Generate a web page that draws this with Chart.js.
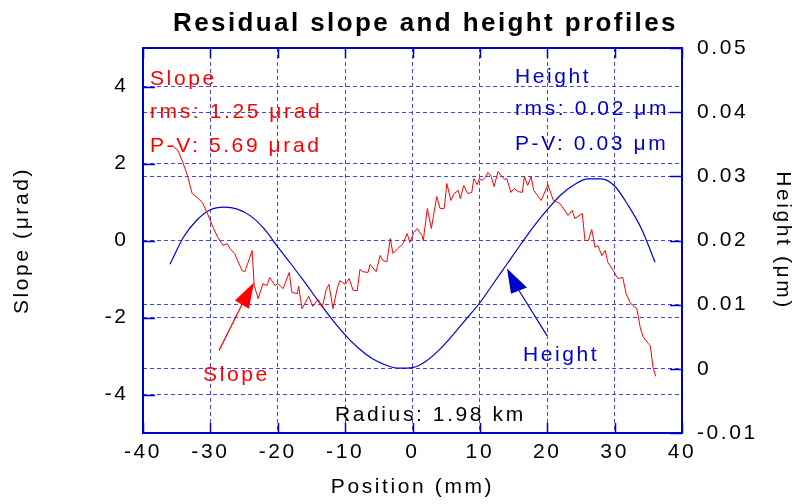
<!DOCTYPE html>
<html>
<head>
<meta charset="utf-8">
<script src="https://cdn.jsdelivr.net/npm/chart.js@4.4.0/dist/chart.umd.min.js"></script>
<style>
html, body { margin: 0; padding: 0; background: #fff; }
#wrap { width: 796px; height: 504px; }
</style>
</head>
<body>
<div id="wrap"><canvas id="myChart"></canvas></div>
<script>
// slope profile (urad) vs position (mm)
const slopeX = [-35.7, -34.8, -34.1, -33.5, -32.7, -31.8, -31.2, -30.5, -29.6, -28.9,
  -28.1, -27.5, -27.1, -26.4, -25.3, -24.9, -24.4, -23.8, -23.5, -22.9,
  -22.2, -21.6, -21.2, -20.4, -20.0, -19.2, -18.3, -17.9, -17.1, -16.9,
  -16.4, -15.4, -14.8, -14.0, -13.4, -12.8, -12.4, -11.8, -11.2, -10.8,
  -10.0, -9.4, -8.8, -8.2, -7.8, -7.4, -6.6, -6.3, -5.4, -4.8,
  -4.4, -3.8, -3.3, -2.9, -2.2, -1.4, -0.8, -0.4, 0.2, 0.7,
  1.4, 1.6, 2.2, 2.8, 3.6, 4.1, 4.7, 5.1, 5.7, 6.2,
  6.8, 7.1, 7.6, 8.2, 8.8, 9.1, 9.6, 9.9, 10.3, 10.8,
  11.2, 11.7, 12.1, 12.7, 13.3, 13.7, 14.0, 14.6, 15.1, 15.7,
  16.3, 16.6, 17.1, 17.6, 18.0, 19.1, 20.1, 20.9, 21.9, 23.1,
  23.7, 24.1, 25.2, 25.6, 26.1, 26.6, 27.1, 27.5, 28.1, 28.6,
  29.0, 29.8, 30.2, 30.5, 31.2, 31.7, 32.3, 32.7, 33.3, 33.8,
  34.2, 35.0, 35.3, 35.7, 36.1];
const slopeY = [2.47, 2.34, 2.03, 1.74, 1.22, 1.09, 0.99, 0.73, 0.34, 0.08,
  -0.13, -0.08, -0.21, -0.34, -0.78, -0.81, -0.57, -0.26, -1.17, -1.51,
  -1.12, -1.17, -0.96, -1.17, -1.12, -1.25, -0.83, -1.35, -1.38, -1.19,
  -1.77, -1.45, -1.71, -1.53, -1.74, -1.27, -1.14, -1.77, -1.27, -1.04,
  -1.14, -0.99, -1.30, -1.30, -0.75, -0.81, -0.83, -0.62, -0.81, -0.39,
  -0.52, -0.55, 0.05, -0.34, -0.21, -0.08, 0.18, -0.05, 0.21, 0.31,
  0.13, 0.00, 0.83, 0.31, 1.14, 0.83, 0.83, 1.48, 1.04, 1.22,
  1.30, 1.09, 1.43, 1.22, 1.25, 1.61, 1.45, 1.61, 1.56, 1.64,
  1.77, 1.66, 1.40, 1.79, 1.66, 1.58, 1.61, 1.25, 1.35, 1.27,
  1.25, 1.66, 1.43, 1.66, 1.30, 1.04, 1.45, 1.04, 0.96, 0.65,
  0.78, 0.57, 0.70, 0.00, 0.00, 0.29, -0.18, -0.13, -0.39, -0.26,
  -0.57, -0.78, -0.91, -0.99, -0.96, -1.38, -1.61, -1.69, -1.77, -2.26,
  -2.49, -2.68, -2.73, -3.30, -3.53];

// height profile (um) vs position (mm)
const heightX = [-36, -34, -32, -30, -28, -26, -24, -22, -20, -18,
  -16, -14, -12, -10, -8, -6, -4, -2, 0, 2,
  4, 6, 8, 10, 12, 14, 16, 18, 20, 22,
  24, 26, 28, 30, 32, 34, 36];
const heightY = [0.0163, 0.0205, 0.0232, 0.0248, 0.0252, 0.0249, 0.0238, 0.0218, 0.0190, 0.0163,
  0.0135, 0.0106, 0.0078, 0.0053, 0.0032, 0.0016, 0.0006, 0.0001, 0.0002, 0.0012,
  0.0030, 0.0053, 0.0078, 0.0103, 0.0133, 0.0163, 0.0193, 0.0222, 0.0248, 0.0271,
  0.0287, 0.0296, 0.0296, 0.0285, 0.0255, 0.0218, 0.0166];

const xTicks = [-40, -30, -20, -10, 0, 10, 20, 30, 40];
const slopeTicks = [-4, -2, 0, 2, 4];
const heightTicks = [-0.01, 0, 0.01, 0.02, 0.03, 0.04, 0.05];
const heightTickLabels = ['-0.01', '0', '0.01', '0.02', '0.03', '0.04', '0.05'];

const FONT = '"Liberation Sans", Arial, sans-serif';
const SPACING = '2.6px';
const frameColor = '#0000cc';
const gridColor = '#4545e0';
const red = '#ff0000';
const blue = '#0000cc';

Chart.defaults.font.family = FONT;
Chart.defaults.font.size = 21;
Chart.defaults.color = '#000';

// text and arrows placed in slope/position units
const notes = [
  {text: 'Slope', x: -38.96, y: 4.05, color: red},
  {text: 'rms: 1.25 \u03bcrad', x: -38.96, y: 3.17, color: red},
  {text: 'P-V: 5.69 \u03bcrad', x: -38.96, y: 2.29, color: red},
  {text: 'Height', x: 15.21, y: 4.10, color: blue},
  {text: 'rms: 0.02 \u03bcm', x: 15.21, y: 3.25, color: blue},
  {text: 'P-V: 0.03 \u03bcm', x: 15.21, y: 2.34, color: blue},
  {text: 'Slope', x: -31.09, y: -3.66, color: red},
  {text: 'Height', x: 16.40, y: -3.12, color: blue},
  {text: 'Radius: 1.98 km', x: -11.5, y: -4.68, color: '#000'}
];
const arrows = [
  {tail: [-28.72, -2.86], tip: [-23.53, -1.09], b1: [-26.35, -1.56], b2: [-24.27, -1.77], color: red},
  {tail: [19.96, -2.47], tip: [14.03, -0.73], b1: [14.62, -1.38], b2: [16.99, -1.22], color: blue}
];

const spacingPlugin = {
  id: 'spacing',
  beforeDraw(chart) { chart.ctx.letterSpacing = SPACING; }
};

const decorPlugin = {
  id: 'decor',
  afterDraw(chart) {
    const ctx = chart.ctx;
    const a = chart.chartArea;
    const sx = chart.scales.x, sy = chart.scales.y, sh = chart.scales.y2;
    const px = v => sx.getPixelForValue(v);
    const py = v => sy.getPixelForValue(v);
    ctx.save();

    // inner tick marks
    ctx.strokeStyle = frameColor;
    ctx.lineWidth = 1.5;
    ctx.beginPath();
    xTicks.forEach(v => {
      const x = Math.round(px(v)) + 0.5;
      ctx.moveTo(x, a.top); ctx.lineTo(x, a.top + 10);
      ctx.moveTo(x, a.bottom); ctx.lineTo(x, a.bottom - 10);
    });
    slopeTicks.forEach(v => {
      const y = Math.round(py(v)) + 0.5;
      ctx.moveTo(a.left, y); ctx.lineTo(a.left + 12, y);
    });
    heightTicks.forEach(v => {
      const y = Math.round(sh.getPixelForValue(v)) + 0.5;
      ctx.moveTo(a.right, y); ctx.lineTo(a.right - 12, y);
    });
    ctx.stroke();

    // frame
    ctx.lineWidth = 2;
    ctx.strokeRect(a.left, a.top, a.right - a.left, a.bottom - a.top);

    // arrows
    arrows.forEach(ar => {
      ctx.strokeStyle = ar.color;
      ctx.fillStyle = ar.color;
      ctx.lineWidth = 1.2;
      const mx = (ar.b1[0] + ar.b2[0]) / 2, my = (ar.b1[1] + ar.b2[1]) / 2;
      ctx.beginPath();
      ctx.moveTo(px(ar.tail[0]), py(ar.tail[1]));
      ctx.lineTo(px(mx), py(my));
      ctx.stroke();
      ctx.beginPath();
      ctx.moveTo(px(ar.tip[0]), py(ar.tip[1]));
      ctx.lineTo(px(ar.b1[0]), py(ar.b1[1]));
      ctx.lineTo(px(ar.b2[0]), py(ar.b2[1]));
      ctx.closePath();
      ctx.fill();
    });

    // annotation text
    ctx.letterSpacing = SPACING;
    ctx.font = '21px ' + FONT;
    ctx.textAlign = 'left';
    ctx.textBaseline = 'alphabetic';
    notes.forEach(n => {
      ctx.fillStyle = n.color;
      ctx.fillText(n.text, px(n.x), py(n.y));
    });

    // title
    ctx.letterSpacing = '2.4px';
    ctx.font = 'bold 26px ' + FONT;
    ctx.fillStyle = '#000';
    ctx.fillText('Residual slope and height profiles', 173, 31);
    ctx.restore();
  }
};

const gridOpts = {color: gridColor, lineWidth: 1, drawTicks: false};

const config = {
  type: 'scatter',
  data: {
    datasets: [
      {
        label: 'Slope',
        data: slopeX.map((x, i) => ({x: x, y: slopeY[i]})),
        borderColor: red,
        borderWidth: 1,
        pointRadius: 0,
        showLine: true,
        yAxisID: 'y'
      },
      {
        label: 'Height',
        data: heightX.map((x, i) => ({x: x, y: heightY[i]})),
        borderColor: '#0000dd',
        borderWidth: 1.2,
        pointRadius: 0,
        showLine: true,
        tension: 0.4,
        cubicInterpolationMode: 'monotone',
        yAxisID: 'y2'
      }
    ]
  },
  options: {
    responsive: true,
    maintainAspectRatio: false,
    animation: false,
    layout: {padding: {top: 48, left: 0, right: 0, bottom: 0}},
    plugins: {legend: {display: false}, tooltip: {enabled: false}},
    scales: {
      x: {
        type: 'linear',
        min: -40,
        max: 40,
        afterBuildTicks: s => { s.ticks = xTicks.map(v => ({value: v})); },
        afterFit: s => { s.height = 71; },
        ticks: {padding: 7, maxRotation: 0, autoSkip: false},
        grid: gridOpts,
        border: {display: false, dash: [4, 3]},
        title: {display: true, text: 'Position (mm)', padding: {top: 0, bottom: 4.4}}
      },
      y: {
        type: 'linear',
        position: 'left',
        min: -5,
        max: 5,
        afterBuildTicks: s => { s.ticks = slopeTicks.map(v => ({value: v})); },
        afterFit: s => { s.width = 143; },
        ticks: {padding: 14.5},
        grid: gridOpts,
        border: {display: false, dash: [4, 3]},
        title: {display: true, text: 'Slope (\u03bcrad)', padding: {top: 9.4, bottom: 0}}
      },
      y2: {
        type: 'linear',
        position: 'right',
        min: -0.01,
        max: 0.05,
        afterBuildTicks: s => { s.ticks = heightTicks.map(v => ({value: v})); },
        afterFit: s => { s.width = 114; },
        ticks: {padding: 15, callback: (v, i) => heightTickLabels[i]},
        grid: gridOpts,
        border: {display: false, dash: [4, 3]},
        title: {display: true, text: 'Height (\u03bcm)', padding: {top: 0.4, bottom: 0}}
      }
    }
  },
  plugins: [spacingPlugin, decorPlugin]
};

const myChart = new Chart(document.getElementById('myChart'), config);
</script>
</body>
</html>
